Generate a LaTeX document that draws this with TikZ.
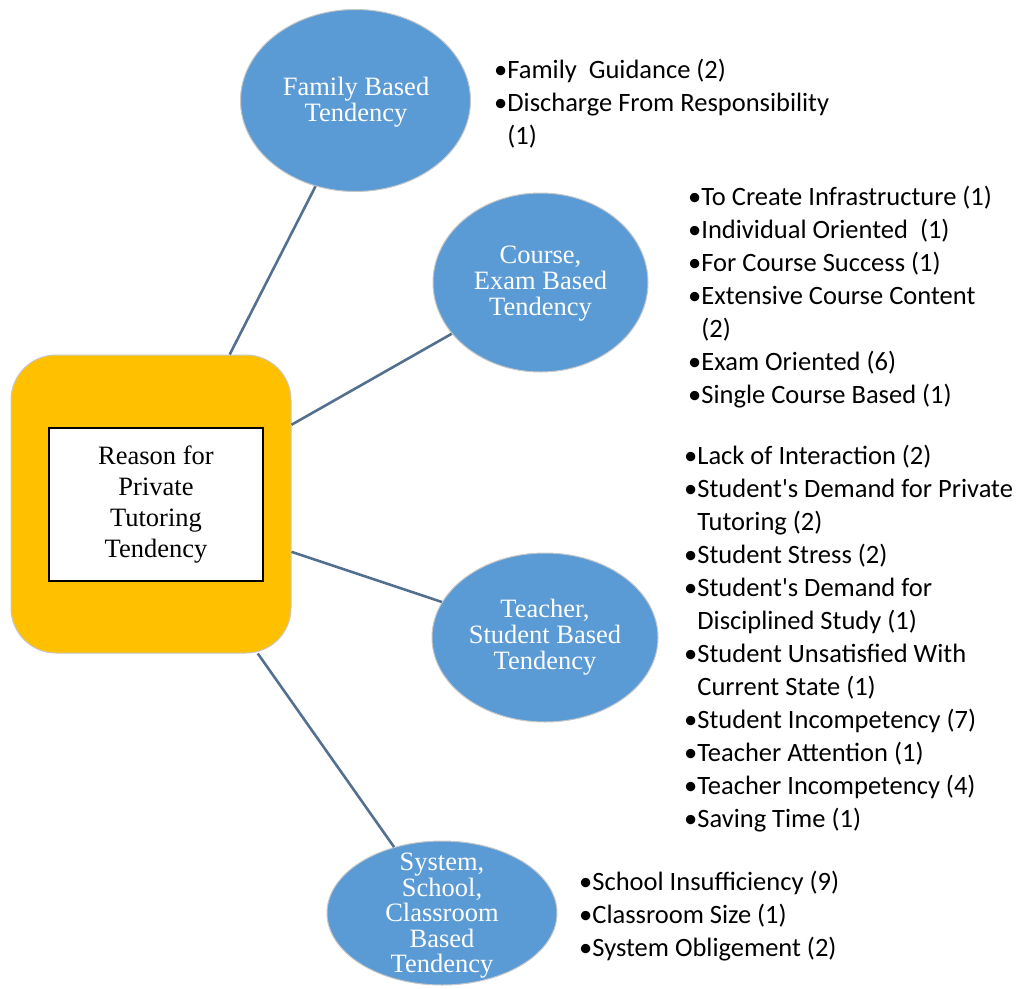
\documentclass[tikz,border=0pt]{standalone}
\usepackage{fontspec}
\setmainfont{Liberation Serif}
\newfontfamily\listfont{Carlito}
\usetikzlibrary{shapes.geometric,calc}
\definecolor{ellblue}{RGB}{91,155,213}
\definecolor{boxyellow}{RGB}{255,192,0}
\definecolor{linkcol}{RGB}{84,112,145}
\begin{document}
\begin{tikzpicture}[x=1pt,y=-1pt,
  bubble/.style={ellipse, fill=ellblue, draw=black!22, line width=1pt, inner sep=0pt},
  bubbletext/.style={text=white, align=center, inner sep=0pt, font=\fontsize{26.5}{26}\selectfont},
  itemlist/.style={anchor=north west, inner sep=0pt, align=left, font=\listfont\fontsize{26.5}{33}\selectfont},
  link/.style={draw=linkcol, line width=2.6pt}]
\useasboundingbox (0,0) rectangle (1022,988);
% hub
\node[rounded corners=45pt, fill=boxyellow, draw=black!22, line width=1pt,
      minimum width=280pt, minimum height=298pt] (hub) at (151,504) {};
\node[draw=black, line width=1.2pt, fill=white, minimum width=214pt, minimum height=153pt,
      align=center, font=\fontsize{26.5}{31}\selectfont] (reason) at (156,504.5)
      {Reason for\\Private\\Tutoring\\Tendency};
% bubbles
\node[bubble, minimum width=230pt, minimum height=182pt] (fam) at (355.5,100.5) {};
\node[bubbletext] (famtext) at (356,102) {Family Based\\Tendency};
\node[bubble, minimum width=215pt, minimum height=179pt] (course) at (540.5,282.5) {};
\node[bubbletext] (coursetext) at (540.5,284) {Course,\\Exam Based\\Tendency};
\node[bubble, minimum width=226pt, minimum height=169pt] (teach) at (545,637.5) {};
\node[bubbletext] (teachtext) at (545,637) {Teacher,\\Student Based\\Tendency};
\node[bubble, minimum width=230pt, minimum height=144pt] (sys) at (442,913) {};
\node[bubbletext, font=\fontsize{26.5}{25.5}\selectfont] (systext) at (442,916)
      {System,\\School,\\Classroom\\Based\\Tendency};
% links
\draw[link] ($(hub.north west)!0.78!(hub.north east)$) -- (fam.245);
\draw[link] ($(hub.north east)!0.235!(hub.south east)$) -- (course.210);
\draw[link] ($(hub.north east)!0.66!(hub.south east)$) -- (teach.161);
\draw[link] ($(hub.south west)!0.88!(hub.south east)$) -- (sys.126);
% lists
\node[itemlist] (famlist) at (494,55) {\strut•Family\ \ Guidance (2)\\
  \strut•Discharge From Responsibility\\
  \strut\hphantom{•}(1)};
\node[itemlist] (courselist) at (688,182) {\strut•To Create Infrastructure (1)\\
  \strut•Individual Oriented\ \ (1)\\
  \strut•For Course Success (1)\\
  \strut•Extensive Course Content\\
  \strut\hphantom{•}(2)\\
  \strut•Exam Oriented (6)\\
  \strut•Single Course Based (1)};
\node[itemlist] (teachlist) at (684,441) {\strut•Lack of Interaction (2)\\
  \strut•Student's Demand for Private\\
  \strut\hphantom{•}Tutoring (2)\\
  \strut•Student Stress (2)\\
  \strut•Student's Demand for\\
  \strut\hphantom{•}Disciplined Study (1)\\
  \strut•Student Unsatisfied With\\
  \strut\hphantom{•}Current State (1)\\
  \strut•Student Incompetency (7)\\
  \strut•Teacher Attention (1)\\
  \strut•Teacher Incompetency (4)\\
  \strut•Saving Time (1)};
\node[itemlist] (syslist) at (579,867) {\strut•School Insufficiency (9)\\
  \strut•Classroom Size (1)\\
  \strut•System Obligement (2)};
\end{tikzpicture}
\end{document}
